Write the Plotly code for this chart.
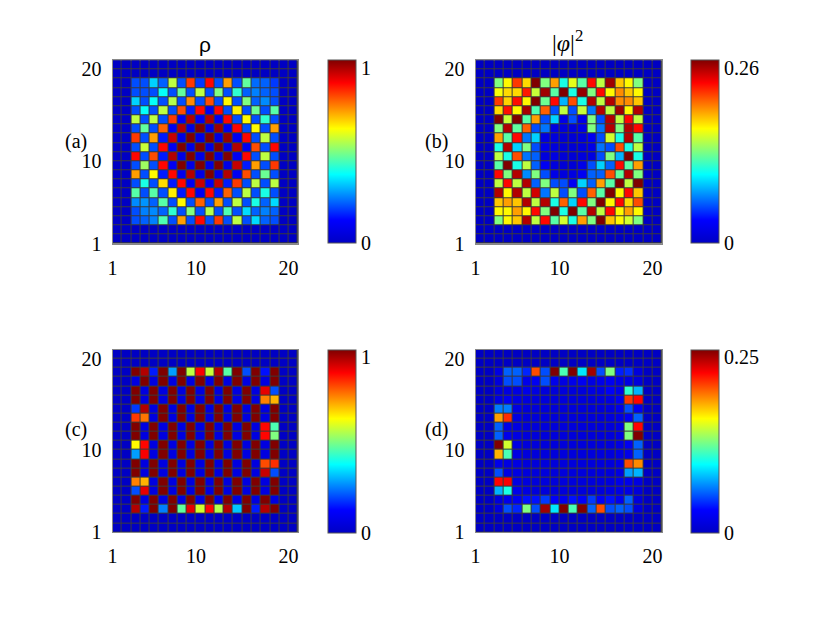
import numpy as np
import plotly.graph_objects as go

# 16x16 interior of each lattice, rows listed from top (y=18) to bottom (y=3)
rho_a = [
    [0.20, 0.20, 0.33, 0.22, 0.56, 0.20, 0.82, 0.18, 0.87, 0.20, 0.72, 0.20, 0.47, 0.23, 0.22, 0.18],
    [0.20, 0.20, 0.20, 0.38, 0.20, 0.47, 0.20, 0.56, 0.20, 0.50, 0.20, 0.42, 0.22, 0.25, 0.22, 0.20],
    [0.33, 0.20, 0.38, 0.20, 0.55, 0.20, 0.74, 0.20, 0.80, 0.20, 0.63, 0.20, 0.50, 0.22, 0.26, 0.20],
    [0.20, 0.38, 0.20, 0.56, 0.20, 0.80, 0.15, 0.87, 0.10, 0.87, 0.20, 0.64, 0.20, 0.48, 0.20, 0.46],
    [0.56, 0.20, 0.56, 0.20, 0.82, 0.10, 0.95, 0.10, 0.95, 0.10, 0.87, 0.20, 0.63, 0.20, 0.42, 0.20],
    [0.20, 0.47, 0.20, 0.78, 0.10, 0.95, 0.07, 1.00, 0.07, 0.97, 0.10, 0.87, 0.20, 0.63, 0.20, 0.72],
    [0.82, 0.20, 0.72, 0.15, 0.93, 0.07, 1.00, 0.07, 1.00, 0.07, 0.98, 0.10, 0.87, 0.20, 0.56, 0.20],
    [0.20, 0.57, 0.20, 0.87, 0.10, 1.00, 0.07, 1.00, 0.07, 1.00, 0.07, 0.95, 0.10, 0.80, 0.20, 0.87],
    [0.87, 0.20, 0.80, 0.15, 0.95, 0.07, 1.00, 0.07, 1.00, 0.07, 1.00, 0.10, 0.87, 0.20, 0.56, 0.20],
    [0.20, 0.53, 0.20, 0.87, 0.10, 1.00, 0.07, 1.00, 0.07, 1.00, 0.07, 0.93, 0.15, 0.72, 0.20, 0.82],
    [0.72, 0.20, 0.63, 0.15, 0.87, 0.09, 0.95, 0.07, 1.00, 0.07, 0.95, 0.10, 0.80, 0.20, 0.48, 0.20],
    [0.20, 0.40, 0.20, 0.66, 0.15, 0.87, 0.10, 0.93, 0.10, 0.93, 0.15, 0.82, 0.20, 0.56, 0.20, 0.56],
    [0.46, 0.20, 0.46, 0.20, 0.64, 0.15, 0.87, 0.10, 0.87, 0.15, 0.78, 0.20, 0.56, 0.20, 0.40, 0.20],
    [0.26, 0.27, 0.22, 0.46, 0.20, 0.63, 0.20, 0.78, 0.20, 0.72, 0.20, 0.56, 0.20, 0.40, 0.22, 0.34],
    [0.20, 0.25, 0.26, 0.22, 0.42, 0.20, 0.50, 0.20, 0.55, 0.20, 0.45, 0.20, 0.34, 0.22, 0.25, 0.22],
    [0.20, 0.22, 0.25, 0.45, 0.20, 0.72, 0.20, 0.87, 0.20, 0.82, 0.20, 0.56, 0.20, 0.34, 0.22, 0.20],
]

phi2_b = [
    [0.130, 0.164, 0.213, 0.172, 0.260, 0.130, 0.187, 0.104, 0.156, 0.120, 0.226, 0.146, 0.252, 0.177, 0.164, 0.130],
    [0.161, 0.172, 0.172, 0.221, 0.148, 0.252, 0.120, 0.260, 0.104, 0.255, 0.130, 0.226, 0.164, 0.192, 0.177, 0.164],
    [0.213, 0.174, 0.224, 0.164, 0.260, 0.125, 0.226, 0.078, 0.208, 0.104, 0.247, 0.146, 0.247, 0.192, 0.192, 0.177],
    [0.172, 0.224, 0.164, 0.250, 0.117, 0.203, 0.052, 0.146, 0.052, 0.148, 0.062, 0.247, 0.146, 0.252, 0.164, 0.247],
    [0.260, 0.148, 0.260, 0.120, 0.187, 0.052, 0.086, 0.020, 0.052, 0.020, 0.130, 0.052, 0.247, 0.146, 0.226, 0.146],
    [0.130, 0.247, 0.122, 0.203, 0.052, 0.062, 0.016, 0.014, 0.014, 0.020, 0.130, 0.062, 0.247, 0.130, 0.247, 0.226],
    [0.187, 0.120, 0.226, 0.062, 0.086, 0.016, 0.014, 0.010, 0.010, 0.014, 0.026, 0.052, 0.151, 0.104, 0.247, 0.120],
    [0.104, 0.247, 0.086, 0.130, 0.052, 0.020, 0.014, 0.010, 0.010, 0.014, 0.020, 0.062, 0.052, 0.208, 0.104, 0.146],
    [0.146, 0.104, 0.208, 0.062, 0.057, 0.014, 0.016, 0.010, 0.010, 0.014, 0.016, 0.052, 0.130, 0.078, 0.260, 0.104],
    [0.120, 0.260, 0.104, 0.146, 0.057, 0.026, 0.014, 0.010, 0.010, 0.020, 0.052, 0.086, 0.057, 0.226, 0.120, 0.187],
    [0.226, 0.130, 0.247, 0.068, 0.130, 0.052, 0.020, 0.014, 0.016, 0.026, 0.057, 0.057, 0.208, 0.122, 0.247, 0.130],
    [0.146, 0.226, 0.146, 0.247, 0.057, 0.130, 0.052, 0.052, 0.026, 0.086, 0.057, 0.187, 0.120, 0.260, 0.146, 0.260],
    [0.247, 0.164, 0.247, 0.146, 0.239, 0.062, 0.146, 0.052, 0.130, 0.052, 0.203, 0.120, 0.260, 0.164, 0.226, 0.177],
    [0.177, 0.187, 0.177, 0.247, 0.146, 0.247, 0.104, 0.203, 0.086, 0.226, 0.130, 0.260, 0.164, 0.226, 0.172, 0.208],
    [0.164, 0.164, 0.187, 0.164, 0.226, 0.130, 0.260, 0.104, 0.260, 0.120, 0.247, 0.146, 0.226, 0.164, 0.187, 0.164],
    [0.130, 0.164, 0.177, 0.247, 0.146, 0.226, 0.120, 0.151, 0.104, 0.187, 0.130, 0.260, 0.177, 0.164, 0.151, 0.130],
]

rho_c = [
    [1.00, 0.95, 0.15, 1.00, 0.28, 1.00, 0.56, 0.88, 0.57, 0.95, 0.46, 1.00, 0.20, 1.00, 0.14, 1.00],
    [0.06, 1.00, 0.06, 1.00, 0.06, 1.00, 0.06, 1.00, 0.06, 1.00, 0.06, 1.00, 0.06, 1.00, 0.06, 1.00],
    [1.00, 0.06, 1.00, 0.06, 1.00, 0.06, 1.00, 0.06, 1.00, 0.06, 1.00, 0.06, 1.00, 0.06, 0.90, 0.20],
    [1.00, 0.06, 1.00, 0.06, 1.00, 0.06, 1.00, 0.06, 1.00, 0.06, 1.00, 0.06, 1.00, 0.06, 0.75, 0.70],
    [0.18, 0.95, 0.06, 1.00, 0.06, 1.00, 0.06, 1.00, 0.06, 1.00, 0.06, 1.00, 0.06, 1.00, 0.06, 1.00],
    [0.82, 0.76, 0.06, 1.00, 0.06, 1.00, 0.06, 1.00, 0.06, 1.00, 0.06, 1.00, 0.06, 1.00, 0.06, 1.00],
    [1.00, 0.06, 1.00, 0.06, 1.00, 0.06, 1.00, 0.06, 1.00, 0.06, 1.00, 0.06, 1.00, 0.06, 0.87, 0.45],
    [1.00, 0.06, 1.00, 0.06, 1.00, 0.06, 1.00, 0.06, 1.00, 0.06, 1.00, 0.06, 1.00, 0.06, 0.87, 0.50],
    [0.63, 0.87, 0.06, 1.00, 0.06, 1.00, 0.06, 1.00, 0.06, 1.00, 0.06, 1.00, 0.06, 1.00, 0.06, 1.00],
    [0.28, 0.88, 0.06, 1.00, 0.06, 1.00, 0.06, 1.00, 0.06, 1.00, 0.06, 1.00, 0.06, 1.00, 0.06, 1.00],
    [1.00, 0.06, 1.00, 0.06, 1.00, 0.06, 1.00, 0.06, 1.00, 0.06, 1.00, 0.06, 1.00, 0.06, 0.80, 0.83],
    [1.00, 0.06, 1.00, 0.06, 1.00, 0.06, 1.00, 0.06, 1.00, 0.06, 1.00, 0.06, 1.00, 0.06, 0.93, 0.20],
    [0.75, 0.70, 0.06, 1.00, 0.06, 1.00, 0.06, 1.00, 0.06, 1.00, 0.06, 1.00, 0.06, 1.00, 0.06, 1.00],
    [0.20, 0.90, 0.06, 1.00, 0.06, 1.00, 0.06, 1.00, 0.06, 1.00, 0.06, 1.00, 0.06, 1.00, 0.06, 1.00],
    [1.00, 0.06, 1.00, 0.06, 1.00, 0.06, 1.00, 0.06, 1.00, 0.06, 1.00, 0.06, 1.00, 0.06, 1.00, 0.06],
    [0.95, 0.15, 1.00, 0.25, 1.00, 0.47, 0.90, 0.58, 0.87, 0.55, 0.95, 0.32, 1.00, 0.15, 0.95, 1.00],
]

phi2_d = [
    [0.016, 0.055, 0.055, 0.040, 0.200, 0.050, 0.250, 0.112, 0.250, 0.088, 0.242, 0.050, 0.125, 0.038, 0.042, 0.012],
    [0.012, 0.050, 0.050, 0.020, 0.024, 0.050, 0.020, 0.016, 0.020, 0.024, 0.016, 0.020, 0.024, 0.018, 0.016, 0.012],
    [0.012, 0.016, 0.016, 0.020, 0.016, 0.012, 0.012, 0.012, 0.012, 0.012, 0.016, 0.016, 0.028, 0.020, 0.105, 0.075],
    [0.016, 0.024, 0.016, 0.014, 0.012, 0.012, 0.012, 0.012, 0.012, 0.012, 0.012, 0.014, 0.016, 0.024, 0.205, 0.218],
    [0.062, 0.062, 0.016, 0.012, 0.012, 0.012, 0.012, 0.012, 0.012, 0.012, 0.012, 0.012, 0.014, 0.020, 0.050, 0.024],
    [0.180, 0.208, 0.016, 0.012, 0.012, 0.012, 0.012, 0.012, 0.012, 0.012, 0.012, 0.012, 0.014, 0.016, 0.024, 0.055],
    [0.055, 0.020, 0.016, 0.012, 0.012, 0.012, 0.012, 0.012, 0.012, 0.012, 0.012, 0.012, 0.012, 0.016, 0.125, 0.218],
    [0.055, 0.020, 0.016, 0.012, 0.012, 0.012, 0.012, 0.012, 0.012, 0.012, 0.012, 0.012, 0.012, 0.016, 0.125, 0.250],
    [0.250, 0.145, 0.016, 0.012, 0.012, 0.012, 0.012, 0.012, 0.012, 0.012, 0.012, 0.012, 0.012, 0.016, 0.024, 0.055],
    [0.175, 0.112, 0.016, 0.012, 0.012, 0.012, 0.012, 0.012, 0.012, 0.012, 0.012, 0.012, 0.012, 0.016, 0.020, 0.055],
    [0.020, 0.016, 0.016, 0.012, 0.012, 0.012, 0.012, 0.012, 0.012, 0.012, 0.012, 0.012, 0.012, 0.016, 0.200, 0.185],
    [0.050, 0.016, 0.016, 0.012, 0.012, 0.012, 0.012, 0.012, 0.012, 0.012, 0.012, 0.012, 0.012, 0.016, 0.070, 0.075],
    [0.218, 0.220, 0.016, 0.014, 0.012, 0.012, 0.012, 0.012, 0.012, 0.012, 0.012, 0.012, 0.014, 0.020, 0.020, 0.016],
    [0.075, 0.100, 0.020, 0.016, 0.012, 0.012, 0.012, 0.012, 0.012, 0.012, 0.012, 0.012, 0.016, 0.018, 0.018, 0.012],
    [0.012, 0.020, 0.024, 0.035, 0.035, 0.045, 0.028, 0.024, 0.035, 0.028, 0.045, 0.028, 0.035, 0.024, 0.055, 0.012],
    [0.012, 0.050, 0.040, 0.125, 0.050, 0.242, 0.088, 0.250, 0.112, 0.250, 0.055, 0.200, 0.050, 0.055, 0.050, 0.012],
]

panel_max = [1.0, 0.26, 1.0, 0.25]
cbar_labels = [["0", "1"], ["0", "0.26"], ["0", "1"], ["0", "0.25"]]
panel_tags = ["(a)", "(b)", "(c)", "(d)"]
ticks = [1, 10, 20]

# jet-like colormap (bottom blue as rendered in the figure)
jet = [
    [0.0, "rgb(0,0,196)"],
    [0.125, "rgb(0,0,255)"],
    [0.375, "rgb(0,255,255)"],
    [0.625, "rgb(255,255,0)"],
    [0.875, "rgb(255,0,0)"],
    [1.0, "rgb(128,0,0)"],
]

# the page body has an 8px margin, so draw on a slightly smaller sheet
OFF = 8
W, H = 830 - 2 * OFF, 624 - 2 * OFF


def fx(px):
    return (px - OFF) / W


def fy(py):
    return 1 - (py - OFF) / H


edges = np.arange(1, 22)

# pixel boxes (page coordinates) of the four axes and colorbar lefts
boxes = [(108.3, 295.0, 59.3, 246.7), (474.0, 661.7, 59.3, 246.7),
         (108.3, 295.0, 355.0, 541.7), (474.0, 661.7, 355.0, 541.7)]
cbar_left = [325.0, 690.7, 325.0, 690.7]
tag_pos = [(71, 142), (435, 142), (71, 437), (435, 437)]

serif = "Liberation Serif"
fig = go.Figure()

for k, data in enumerate([rho_a, phi2_b, rho_c, phi2_d]):
    # 2-cell empty border around the lattice, flip so first row is at the top
    z = np.pad(np.array(data), 2, constant_values=0.0)[::-1]
    l, r, t, b = boxes[k]
    xa = "x" if k == 0 else f"x{k+1}"
    ya = "y" if k == 0 else f"y{k+1}"
    zmax = panel_max[k]
    fig.add_trace(go.Heatmap(
        z=z, x=edges, y=edges, xaxis=xa, yaxis=ya,
        zmin=0, zmax=zmax, colorscale=jet,
        xgap=1, ygap=1,
        colorbar=dict(
            x=fx(cbar_left[k]), xanchor="left", xpad=0, ypad=0,
            y=fy(t), yanchor="top", len=(b - t) / H, lenmode="fraction",
            thickness=28, outlinewidth=1, outlinecolor="#555555",
            # top label sits a little below the bar's upper end, as in the figure
            tickvals=[0, zmax * (1 - 8 / (b - t))], ticktext=cbar_labels[k], ticks="",
            tickfont=dict(family=serif, size=20, color="black"),
        ),
    ))
    axis_style = dict(range=[1, 21], tickvals=ticks, showgrid=False, zeroline=False,
                      showline=True, mirror=True, linecolor="#888888", linewidth=1,
                      ticks="", ticklabelstandoff=6,
                      tickfont=dict(family=serif, size=20, color="black"))
    fig.update_layout({
        ("xaxis" if k == 0 else f"xaxis{k+1}"): dict(domain=[fx(l), fx(r)], anchor=ya, **axis_style),
        ("yaxis" if k == 0 else f"yaxis{k+1}"): dict(domain=[fy(b), fy(t)], anchor=xa, **axis_style),
    })
    fig.add_annotation(text=panel_tags[k], x=fx(tag_pos[k][0]), y=fy(tag_pos[k][1]),
                       xref="paper", yref="paper", xanchor="center", yanchor="middle",
                       showarrow=False, font=dict(family=serif, size=20, color="black"))

# column titles
fig.add_annotation(text="ρ", x=fx(201.6), y=fy(43), xref="paper", yref="paper",
                   xanchor="center", yanchor="middle", showarrow=False,
                   font=dict(family="Liberation Sans", size=21, color="black"))
fig.add_annotation(text="|<i>φ</i>|<sup>2</sup>", x=fx(567), y=fy(40),
                   xref="paper", yref="paper", xanchor="center", yanchor="middle",
                   showarrow=False, font=dict(family=serif, size=24, color="black"))

fig.update_layout(
    width=W, height=H,
    margin=dict(l=0, r=0, t=0, b=0),
    paper_bgcolor="white",
    plot_bgcolor="#3a3a3a",
    showlegend=False,
)

fig.write_html("out.html")
